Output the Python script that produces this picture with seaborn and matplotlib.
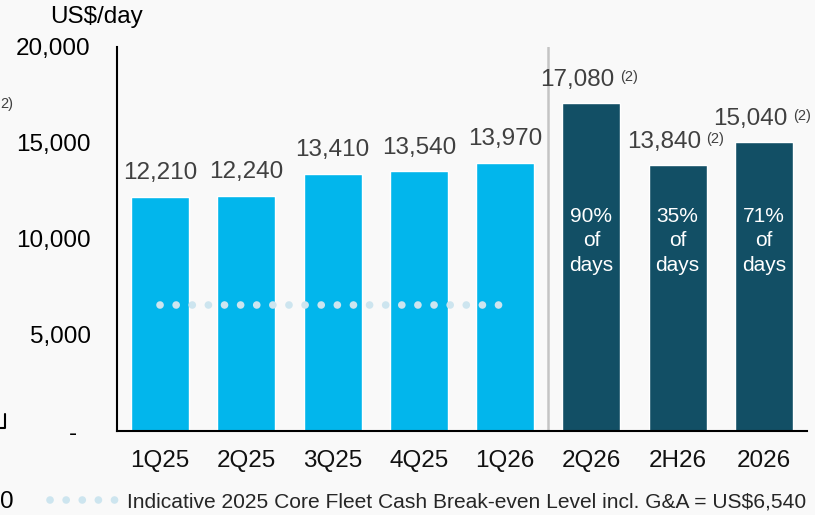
import matplotlib
matplotlib.use("Agg")
import matplotlib.pyplot as plt
from matplotlib.lines import Line2D
import seaborn as sns
import pandas as pd

# Average daily rates per period (US$/day)
periods = ["1Q25", "2Q25", "3Q25", "4Q25", "1Q26", "2Q26", "2H26", "2026"]
rates = [12210, 12240, 13410, 13540, 13970, 17080, 13840, 15040]
status = ["Actual"] * 5 + ["Booked"] * 3
coverage = [None] * 5 + ["90%", "35%", "71%"]
footnotes = [""] * 5 + ["(2)"] * 3

breakeven = 6540
breakeven_from, breakeven_to = "1Q25", "1Q26"
breakeven_label = "Indicative 2025 Core Fleet Cash Break-even Level incl. G&A = US$6,540"

yticks = [0, 5000, 10000, 15000, 20000]
ytick_labels = ["-  ", "5,000", "10,000", "15,000", "20,000"]

LIGHT = "#02b6ec"
DARK = "#124f65"
DOTS = "#cde5ef"
BG = "#f9f9f9"

sns.set_style("white")
plt.rcParams["font.family"] = ["Liberation Sans", "DejaVu Sans"]

df = pd.DataFrame({"period": periods, "rate": rates, "status": status})

fig = plt.figure(figsize=(8.15, 5.15), dpi=100, facecolor=BG)
ax = fig.add_axes([117 / 815, 84 / 515, 690 / 815, 384 / 515])
ax.set_facecolor(BG)

sns.barplot(data=df, x="period", y="rate", hue="status",
            palette={"Actual": LIGHT, "Booked": DARK}, dodge=False,
            width=0.67, legend=False, ax=ax, saturation=1)

ax.set_xlim(-0.5, len(periods) - 0.5)
ax.set_ylim(0, 20000)
ax.set_xlabel("")
ax.set_ylabel("")

# axes styling
for side in ("top", "right"):
    ax.spines[side].set_visible(False)
for side in ("left", "bottom"):
    ax.spines[side].set_linewidth(1.5)
    ax.spines[side].set_color("black")

ax.set_yticks(yticks)
ax.set_yticklabels(ytick_labels)
ax.tick_params(axis="y", direction="in", length=6, width=1.5, pad=19,
               labelsize=17.5, colors="black")
ax.set_xticks(range(len(periods)))
ax.set_xticklabels(periods)
ax.set_xticks([i + 0.5 for i in range(len(periods))], minor=True)
ax.tick_params(axis="x", which="major", length=0, pad=14, labelsize=17.5,
               labelcolor="#111111")
ax.tick_params(axis="x", which="minor", direction="in", length=6, width=1.2,
               color="black")

# divider between actuals and forward bookings
ax.axvline(periods.index("1Q26") + 0.5, color="#c4c4c4", lw=1.8, zorder=0.5)

# break-even level
dot_style = dict(color=DOTS, lw=5.5, linestyle=(0, (0.01, 2.1)),
                 dash_capstyle="round", solid_capstyle="round")
x0, x1 = periods.index(breakeven_from), periods.index(breakeven_to)
ax.plot([x0, x1], [breakeven, breakeven], zorder=3, **dot_style)

# value labels
for i, (v, fn) in enumerate(zip(rates, footnotes)):
    if fn:
        t = ax.annotate(f"{v:,}", (i, v), xytext=(-10, 9), textcoords="offset points",
                        ha="center", va="bottom", fontsize=17.5, color="#404040")
        ax.annotate(fn, xy=(1, 1), xycoords=t, xytext=(4, -1),
                    textcoords="offset points", ha="left", va="top",
                    fontsize=10.5, color="#404040")
    else:
        ax.annotate(f"{v:,}", (i, v), xytext=(0, 9), textcoords="offset points",
                    ha="center", va="bottom", fontsize=17.5, color="#404040")

# coverage labels inside forward bars
for i, cov in enumerate(coverage):
    if cov:
        ax.text(i, 9900, f"{cov}\nof\ndays", ha="center", va="center",
                color="white", fontsize=15, linespacing=1.38)

# unit label
fig.text(97 / 815, 1 - 17 / 515, "US$/day", ha="center", va="center",
         fontsize=17.5, color="black")

# legend
handle = Line2D([], [], **dot_style)
fig.legend([handle], [breakeven_label], loc="center left",
           bbox_to_anchor=(50 / 815, 1 - 502 / 515), frameon=False,
           fontsize=15.1, handlelength=3.15, handletextpad=0.5,
           borderpad=0, borderaxespad=0)

# neighbouring panel edge
fig.text(0, 1 - 104 / 515, "2)", ha="left", va="center",
         fontsize=10.5, color="#404040")
fig.text(0, 1 - 502 / 515, "0", ha="left", va="center",
         fontsize=17.5, color="black")
fig.add_artist(Line2D([0, 5 / 815, 5 / 815], [1 - 428 / 515, 1 - 428 / 515, 1 - 414 / 515],
                      transform=fig.transFigure, color="black", lw=1.5))

fig.savefig("out.png", dpi=100, facecolor=BG)
